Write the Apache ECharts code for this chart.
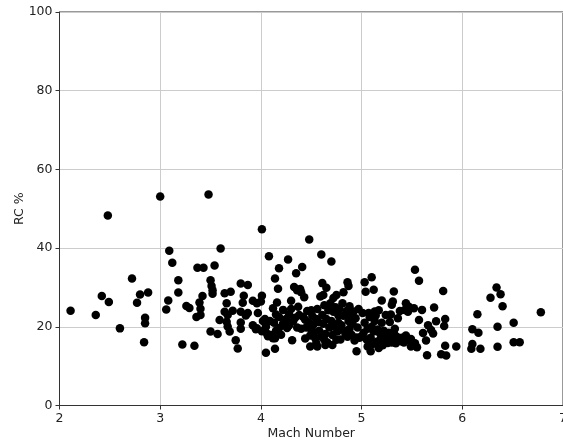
<!DOCTYPE html>
<html>
<head>
<meta charset="utf-8">
<script src="https://cdn.jsdelivr.net/npm/echarts@6/dist/echarts.min.js"></script>
<style>
  html, body { margin: 0; padding: 0; background: #fff; }
  #chart { width: 563px; height: 444px; }
</style>
</head>
<body>
<div id="chart"></div>
<script>
// Mach number of each run and its RC percentage (same order)
const machNumber = [
  2.11, 2.36, 2.42, 2.48, 2.49, 2.60, 2.72, 2.77, 2.80, 2.84, 2.85, 2.85, 2.88,
  3.00, 3.06, 3.08, 3.09, 3.12, 3.18, 3.18, 3.22, 3.26, 3.29, 3.34, 3.36, 3.37, 3.39, 3.40, 3.40, 3.42, 3.43, 3.48,
  3.50, 3.51, 3.52, 3.52, 3.50, 3.54, 3.57, 3.59, 3.60, 3.64, 3.66, 3.64, 3.67, 3.66, 3.67, 3.69, 3.70, 3.72, 3.75,
  3.77, 3.80, 3.80, 3.80, 3.80, 3.82, 3.83, 3.85, 3.87, 3.87, 3.92, 3.92, 3.95, 3.96, 3.97, 3.96, 4.00,
  4.01, 4.01, 4.01, 4.02, 4.04, 4.05, 4.05, 4.06, 4.08, 4.07, 4.09, 4.10, 4.12, 4.12, 4.13, 4.14, 4.14, 4.14,
  4.15, 4.15, 4.16, 4.17, 4.18, 4.18, 4.18, 4.20, 4.22, 4.22, 4.25, 4.26, 4.27, 4.28, 4.28, 4.30, 4.30, 4.31,
  4.32, 4.33, 4.34, 4.35, 4.36, 4.36, 4.37, 4.38, 4.39, 4.40, 4.41, 4.40, 4.43,
  4.42, 4.44, 4.44, 4.45, 4.46, 4.48, 4.48, 4.49, 4.49, 4.50, 4.50, 4.51, 4.52, 4.53, 4.54, 4.55, 4.55, 4.56,
  4.56, 4.57, 4.58, 4.60, 4.59, 4.60, 4.61, 4.61, 4.62, 4.62, 4.63, 4.63, 4.64, 4.64, 4.65, 4.65, 4.66, 4.67,
  4.68, 4.69, 4.70, 4.70, 4.71, 4.71, 4.72, 4.72, 4.73, 4.74, 4.75, 4.75, 4.76, 4.77, 4.77, 4.78, 4.79, 4.80,
  4.81, 4.82, 4.82, 4.83, 4.84, 4.85, 4.86, 4.86, 4.87, 4.87, 4.88, 4.88, 4.89, 4.90, 4.90, 4.91, 4.92, 4.93,
  4.94, 4.95, 4.95, 4.96, 4.97, 4.98,
  5.00, 5.01, 5.02, 5.03, 5.03, 5.04, 5.05, 5.06, 5.06, 5.07, 5.08, 5.09, 5.09, 5.10, 5.10, 5.11, 5.12, 5.12,
  5.13, 5.13, 5.14, 5.15, 5.16, 5.17, 5.17, 5.18, 5.19, 5.20, 5.20, 5.21, 5.22, 5.23, 5.24, 5.25, 5.26, 5.27,
  5.28, 5.29, 5.30, 5.30, 5.31, 5.31, 5.32, 5.32, 5.33, 5.34, 5.35, 5.36, 5.37, 5.38, 5.39, 5.40, 5.42, 5.43,
  5.44, 5.44, 5.46, 5.47, 5.48, 5.49, 5.49,
  5.53, 5.52, 5.53, 5.55, 5.57, 5.57, 5.60, 5.61, 5.64, 5.65, 5.66, 5.69, 5.71, 5.72, 5.74, 5.79, 5.81, 5.82,
  5.83, 5.83, 5.84, 5.94,
  6.09, 6.10, 6.10, 6.15, 6.16, 6.18, 6.28, 6.34, 6.35, 6.35, 6.38, 6.40, 6.51, 6.51, 6.57, 6.78
];
const rcPercent = [
  24.1, 23.0, 27.8, 48.3, 26.3, 19.6, 32.3, 26.1, 28.2, 16.1, 22.3, 20.9, 28.7,
  53.1, 24.4, 26.7, 39.3, 36.3, 31.8, 28.7, 15.5, 25.3, 24.8, 15.2, 22.5, 35.0, 26.2, 24.6, 23.0, 27.8, 35.0, 53.6,
  31.8, 30.4, 29.3, 28.4, 18.8, 35.6, 18.2, 21.7, 39.9, 28.5, 26.0, 23.8, 23.0, 21.3, 20.1, 18.8, 28.9, 24.1, 16.6,
  14.5, 31.0, 21.1, 19.5, 23.8, 26.1, 27.9, 22.9, 30.6, 23.5, 26.6, 20.4, 19.4, 26.0, 23.5, 19.6, 26.4,
  44.8, 27.9, 18.9, 21.5, 22.0, 20.0, 13.4, 18.3, 37.9, 17.6, 21.5, 17.9, 17.1, 24.7, 21.0, 32.3, 14.4, 17.1,
  23.1, 19.0, 26.2, 29.7, 34.9, 19.7, 22.5, 18.0, 24.3, 20.8, 22.0, 19.7, 37.1, 23.1, 20.4, 26.6, 24.5, 16.6,
  21.4, 30.1, 22.3, 33.6, 29.3, 19.8, 25.1, 23.0, 29.6, 19.5, 35.2, 28.8, 27.5,
  22.5, 21.8, 17.0, 19.8, 24.0, 42.2, 21.0, 17.8, 15.0, 24.2, 19.3, 22.8, 20.5, 18.6, 17.1, 22.0, 15.8, 15.0,
  24.5, 21.2, 19.0, 38.4, 27.7, 17.5, 31.1, 23.0, 20.8, 28.1, 25.5, 16.7, 18.2, 15.4, 29.9, 22.0, 16.0, 24.2,
  19.8, 26.0, 36.6, 21.5, 17.9, 15.4, 27.3, 23.8, 20.0, 25.0, 16.7, 28.1, 18.8, 22.9, 21.0, 24.5, 16.8, 20.4,
  26.0, 28.8, 22.8, 19.0, 18.2, 24.0, 31.3, 17.5, 30.4, 21.5, 25.2, 19.5, 23.0, 21.4, 18.0, 20.8, 23.9, 16.5,
  22.2, 13.8, 17.3, 19.8, 24.5, 17.2,
  17.6, 23.5, 18.5, 31.3, 21.0, 28.9, 16.8, 15.0, 19.5, 23.5, 22.5, 13.8, 17.2, 32.6, 20.0, 15.6, 29.4, 18.8,
  23.9, 21.5, 22.9, 16.2, 19.3, 14.6, 24.2, 18.4, 17.0, 26.7, 21.0, 15.3, 19.0, 17.6, 23.0, 16.8, 15.9, 18.5,
  21.2, 23.1, 25.6, 16.0, 26.4, 17.8, 29.0, 18.4, 19.5, 15.8, 17.5, 22.2, 16.6, 24.0, 16.3, 17.2, 16.0, 24.3,
  26.0, 17.8, 23.8, 25.1, 16.5, 16.9, 15.0,
  34.5, 24.7, 15.8, 14.8, 31.7, 21.7, 24.3, 18.4, 16.5, 12.8, 20.4, 19.2, 18.3, 24.9, 21.4, 13.0, 29.1, 20.2,
  22.0, 15.2, 12.7, 15.0,
  14.4, 15.6, 19.4, 23.2, 18.5, 14.4, 27.4, 30.0, 20.0, 14.9, 28.3, 25.2, 21.0, 16.1, 16.1, 23.7
];
const xTicks = [2, 3, 4, 5, 6, 7];
const yTicks = [0, 20, 40, 60, 80, 100];

const points = machNumber.map((m, i) => [m, rcPercent[i]]);

const font = 'DejaVu Sans, Liberation Sans, sans-serif';
const chart = echarts.init(document.getElementById('chart'), null, { renderer: 'canvas' });

chart.setOption({
  animation: false,
  backgroundColor: '#ffffff',
  grid: {
    left: 59.5, right: 0, top: 12, bottom: 38.5,
    outerBoundsMode: 'none', containLabel: false,
    show: true, borderColor: '#333333', borderWidth: 1, backgroundColor: 'transparent'
  },
  xAxis: {
    type: 'value',
    min: xTicks[0], max: xTicks[xTicks.length - 1], interval: 1,
    name: 'Mach Number', nameLocation: 'middle', nameGap: 22, nameMoveOverlap: false,
    nameTextStyle: { fontFamily: font, fontSize: 12.5, color: '#222' },
    axisLine: { show: true, onZero: false, lineStyle: { color: '#333333', width: 1 } },
    axisTick: { show: true, length: 4, lineStyle: { color: '#333333' } },
    axisLabel: { margin: 7, fontFamily: font, fontSize: 12.5, color: '#222' },
    splitLine: { show: true, lineStyle: { color: '#cccccc', width: 1 } }
  },
  yAxis: {
    type: 'value',
    min: yTicks[0], max: yTicks[yTicks.length - 1], interval: 20,
    name: 'RC %', nameLocation: 'middle', nameGap: 33, nameMoveOverlap: false,
    nameTextStyle: { fontFamily: font, fontSize: 12.5, color: '#222' },
    axisLine: { show: true, lineStyle: { color: '#333333', width: 1 } },
    axisTick: { show: true, length: 4, lineStyle: { color: '#333333' } },
    axisLabel: { margin: 7, fontFamily: font, fontSize: 12.5, color: '#222' },
    splitLine: { show: true, lineStyle: { color: '#cccccc', width: 1 } }
  },
  series: [{
    type: 'scatter',
    data: points,
    symbol: 'circle',
    symbolSize: 8.5,
    itemStyle: { color: '#000000', opacity: 1 },
    silent: true
  }]
});
</script>
</body>
</html>
